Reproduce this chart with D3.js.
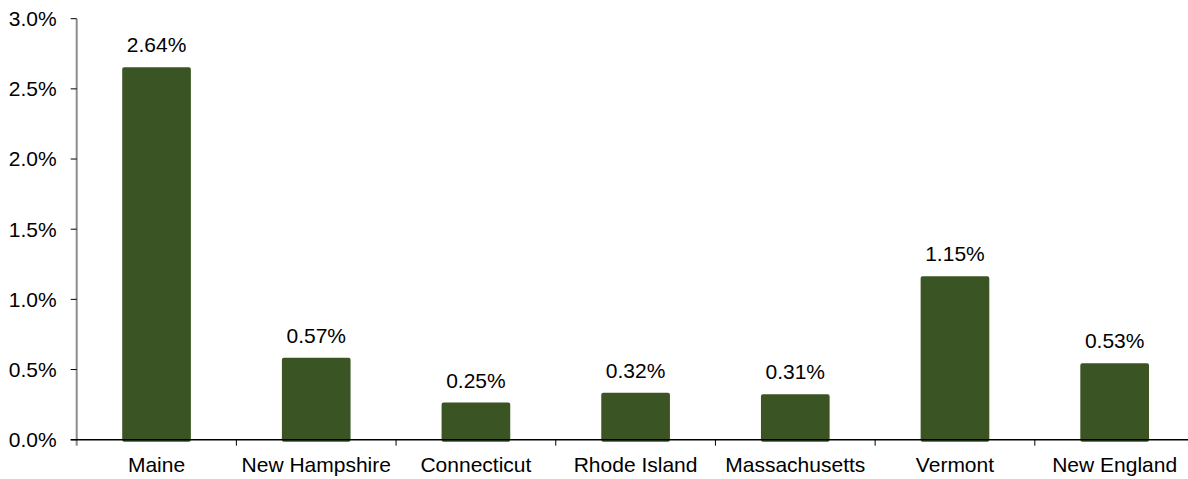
<!DOCTYPE html>
<html><head><meta charset="utf-8">
<script src="https://cdn.jsdelivr.net/npm/d3@7"></script>
<style>body{margin:0;background:#fff;} svg{display:block;} text{font-family:Arial,"Liberation Sans",sans-serif;fill:#000;}</style>
</head><body>
<svg id="c" width="1188" height="479"></svg>
<script>
const categories = ["Maine","New Hampshire","Connecticut","Rhode Island","Massachusetts","Vermont","New England"];
const values = [2.64,0.57,0.25,0.32,0.31,1.15,0.53];
const valueLabels = ["2.64%","0.57%","0.25%","0.32%","0.31%","1.15%","0.53%"];
const yTicks = [0,0.5,1.0,1.5,2.0,2.5,3.0];
const yTickLabels = ["0.0%","0.5%","1.0%","1.5%","2.0%","2.5%","3.0%"];

const svg = d3.select("#c");
const x = d3.scaleBand().domain(categories).range([76.7,1194.5]).padding(0);
const y = d3.scaleLinear().domain([0,3]).range([439.7,18.7]);
const barW = x.bandwidth()*0.405;
const color = "#3b5424";
const fs = "21px";

// bars
svg.append("g").selectAll("rect").data(categories).join("rect")
  .attr("x", (d)=>x(d)+x.bandwidth()/2-barW/2)
  .attr("width", barW)
  .attr("y", (d,i)=>y(values[i]))
  .attr("height", (d,i)=>y(0)-y(values[i]))
  .attr("fill", color).attr("stroke", color).attr("stroke-width",4)
  .attr("stroke-linejoin","round");

// value labels
svg.append("g").selectAll("text").data(categories).join("text")
  .attr("x", (d)=>x(d)+x.bandwidth()/2)
  .attr("y", (d,i)=>y(values[i])-17)
  .attr("text-anchor","middle").style("font-size",fs)
  .text((d,i)=>valueLabels[i]);

// y axis
const ax = x.range()[0];
svg.append("line").attr("x1",ax).attr("x2",ax).attr("y1",y(3)).attr("y2",y(0)+6)
  .attr("stroke","#8c8c8c").attr("stroke-width",2);
const yg = svg.append("g");
yg.selectAll("line").data(yTicks).join("line")
  .attr("x1",ax-6).attr("x2",ax).attr("y1",d=>y(d)).attr("y2",d=>y(d))
  .attr("stroke","#000").attr("stroke-width",1);
yg.selectAll("text").data(yTicks).join("text")
  .attr("x",ax-20).attr("y",d=>y(d)).attr("dy","0.35em")
  .attr("text-anchor","end").style("font-size",fs)
  .text((d,i)=>yTickLabels[i]);

// x axis
svg.append("line").attr("x1",ax-6).attr("x2",1188).attr("y1",y(0)).attr("y2",y(0))
  .attr("stroke","#000").attr("stroke-width",1.5);
svg.append("g").selectAll("line").data(categories.slice(1)).join("line")
  .attr("x1",d=>x(d)).attr("x2",d=>x(d)).attr("y1",y(0)).attr("y2",y(0)+6)
  .attr("stroke","#000").attr("stroke-width",1);
svg.append("g").selectAll("text").data(categories).join("text")
  .attr("x",d=>x(d)+x.bandwidth()/2).attr("y",y(0)+32)
  .attr("text-anchor","middle").style("font-size",fs)
  .text(d=>d);
</script>
</body></html>
